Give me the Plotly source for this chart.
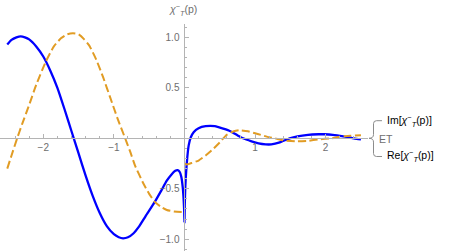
import plotly.graph_objects as go

# ---- data ----
p_im = [-2.51, -2.45, -2.38, -2.32, -2.26, -2.2, -2.1, -2.0, -1.9, -1.8, -1.7, -1.6, -1.5,
        -1.4, -1.3, -1.2, -1.1, -1.0, -0.93, -0.87, -0.8, -0.72, -0.65, -0.55, -0.42, -0.33,
        -0.25, -0.18, -0.13, -0.1, -0.07, -0.045, -0.025, -0.012, -0.004, 0.0, 0.004, 0.012,
        0.025, 0.04, 0.06, 0.09, 0.13, 0.2, 0.3, 0.43, 0.55, 0.65, 0.75, 0.83, 0.95, 1.05,
        1.15, 1.23, 1.35, 1.49, 1.6, 1.75, 1.9, 1.98, 2.1, 2.25, 2.4, 2.5]
im_vals = [0.93, 0.975, 1.0, 1.01, 1.0, 0.98, 0.91, 0.81, 0.67, 0.50, 0.29, 0.07, -0.15,
           -0.37, -0.57, -0.74, -0.87, -0.95, -0.98, -0.99, -0.98, -0.94, -0.88, -0.77, -0.63, -0.52,
           -0.42, -0.355, -0.322, -0.315, -0.33, -0.38, -0.48, -0.60, -0.72, -0.83, -0.67, -0.48,
           -0.32, -0.19, -0.07, 0.01, 0.06, 0.10, 0.12, 0.12, 0.095, 0.07, 0.03, 0.0, -0.03, -0.05,
           -0.06, -0.06, -0.04, 0.0, 0.02, 0.035, 0.04, 0.04, 0.035, 0.02, 0.0, -0.01]

p_re = [-2.51, -2.45, -2.37, -2.3, -2.2, -2.1, -1.97, -1.85, -1.75, -1.66, -1.58, -1.5, -1.42,
        -1.35, -1.25, -1.15, -1.05, -0.95, -0.84, -0.77, -0.70, -0.58, -0.5, -0.42, -0.33,
        -0.25, -0.15, -0.04, -0.005, None,
        0.005, 0.03, 0.1, 0.2, 0.3, 0.4, 0.5, 0.6, 0.7, 0.78, 0.9, 1.0, 1.1, 1.2, 1.28,
        1.4, 1.58, 1.75, 1.9, 2.08, 2.2, 2.35, 2.5]
re_vals = [-0.30, -0.17, 0.0, 0.14, 0.33, 0.53, 0.75, 0.91, 0.99, 1.03, 1.04, 1.03, 0.98,
           0.92, 0.78, 0.60, 0.40, 0.20, 0.0, -0.13, -0.27, -0.45, -0.55, -0.63, -0.68,
           -0.71, -0.725, -0.73, -0.73, None,
           -0.25, -0.26, -0.245, -0.22, -0.17, -0.11, -0.04, 0.035, 0.07, 0.08, 0.07, 0.05,
           0.03, 0.01, 0.0, -0.02, -0.03, -0.025, -0.01, 0.0, 0.015, 0.025, 0.03]

x_tickvals = [-2, -1, 1, 2]
x_ticktext = ["\u22122", "\u22121", "1", "2"]
y_tickvals = [-1.0, -0.5, 0.5, 1.0]
y_ticktext = ["\u22121.0", "\u22120.5", "0.5", "1.0"]

im_label = "Im[<i>\u03c7</i><sup>\u2212</sup><sub><i>T</i></sub>(p)]"
re_label = "Re[<i>\u03c7</i><sup>\u2212</sup><sub><i>T</i></sub>(p)]"
et_label = "ET"
y_title = "<i>\u03c7</i><sup>\u2212</sup><sub><i>T</i></sub>(p)"

# ---- layout constants ----
W, H = 450, 251
ML, MR, MT, MB = 0, 82, 24, 0
X_RANGE = [-2.613, 2.60]
Y_RANGE = [-1.116, 1.132]
AX = "#b4b4b4"
TXT = "#6e6e6e"
FONT = "Liberation Sans"

pw, ph = W - ML - MR, H - MT - MB


def px(x):
    return (x - ML) / pw


def py(y):
    return (H - MB - y) / ph


fig = go.Figure()
fig.add_trace(go.Scatter(x=p_im, y=im_vals, mode="lines",
                         line=dict(color="rgb(0,0,255)", width=2.3, shape="spline", smoothing=0.5),
                         connectgaps=False, hoverinfo="skip"))
fig.add_trace(go.Scatter(x=p_re, y=re_vals, mode="lines",
                         line=dict(color="rgb(225,156,36)", width=2, dash="8px,3.5px",
                                   shape="spline", smoothing=0.5),
                         connectgaps=False, hoverinfo="skip"))

y0frac = (0 - Y_RANGE[0]) / (Y_RANGE[1] - Y_RANGE[0])
x0frac = (0 - X_RANGE[0]) / (X_RANGE[1] - X_RANGE[0])

fig.update_layout(
    width=W, height=H, margin=dict(l=ML, r=MR, t=MT, b=MB, autoexpand=False),
    plot_bgcolor="white", paper_bgcolor="white", showlegend=False,
    font=dict(family=FONT, size=10, color=TXT),
    xaxis=dict(range=X_RANGE, anchor="free", position=y0frac, showgrid=False, zeroline=False,
               automargin=False,
               showline=True, linecolor=AX, linewidth=1,
               tickmode="array", tickvals=x_tickvals, ticktext=x_ticktext,
               ticks="inside", ticklen=4, tickcolor=AX, tickfont=dict(color=TXT, size=10),
               minor=dict(tick0=0, dtick=0.2, ticks="inside", ticklen=2, tickcolor=AX, showgrid=False)),
    yaxis=dict(range=Y_RANGE, anchor="free", position=x0frac, showgrid=False, zeroline=False,
               automargin=False, ticklabelstandoff=3,
               showline=True, linecolor=AX, linewidth=1,
               tickmode="array", tickvals=y_tickvals, ticktext=y_ticktext,
               ticks="inside", ticklen=4, tickcolor=AX, tickfont=dict(color=TXT, size=10),
               minor=dict(tick0=0, dtick=0.1, ticks="inside", ticklen=2, tickcolor=AX, showgrid=False)),
)

# y-axis label at top
fig.add_annotation(x=px(183), y=py(10), xref="paper", yref="paper", text=y_title,
                   showarrow=False, font=dict(size=10.5, color=TXT), xanchor="center", yanchor="middle")

# bracket legend
def P(x, y):
    return f"{px(x):.5f},{py(y):.5f}"

path = ("M " + P(382, 120.7) + " L " + P(376.5, 120.7) + " Q " + P(373.5, 120.7) + " " + P(373.5, 123.7)
        + " L " + P(373.5, 134.5) + " Q " + P(373.5, 138.3) + " " + P(369, 138.3)
        + " Q " + P(373.5, 138.3) + " " + P(373.5, 142.1)
        + " L " + P(373.5, 153.5) + " Q " + P(373.5, 156.5) + " " + P(376.5, 156.5)
        + " L " + P(382, 156.5))
fig.add_shape(type="path", path=path, xref="paper", yref="paper",
              line=dict(color="#8c8c8c", width=1))

fig.add_annotation(x=px(385), y=py(121), xref="paper", yref="paper", text=im_label,
                   showarrow=False, font=dict(size=10.5, color="black"), xanchor="left", yanchor="middle")
fig.add_annotation(x=px(377), y=py(139), xref="paper", yref="paper", text=et_label,
                   showarrow=False, font=dict(size=10.5, color=TXT), xanchor="left", yanchor="middle")
fig.add_annotation(x=px(385), y=py(156), xref="paper", yref="paper", text=re_label,
                   showarrow=False, font=dict(size=10.5, color="black"), xanchor="left", yanchor="middle")

fig.write_html("out.html", config={"displayModeBar": False},
               post_script="document.body.style.margin='0';document.body.style.overflow='hidden';")
